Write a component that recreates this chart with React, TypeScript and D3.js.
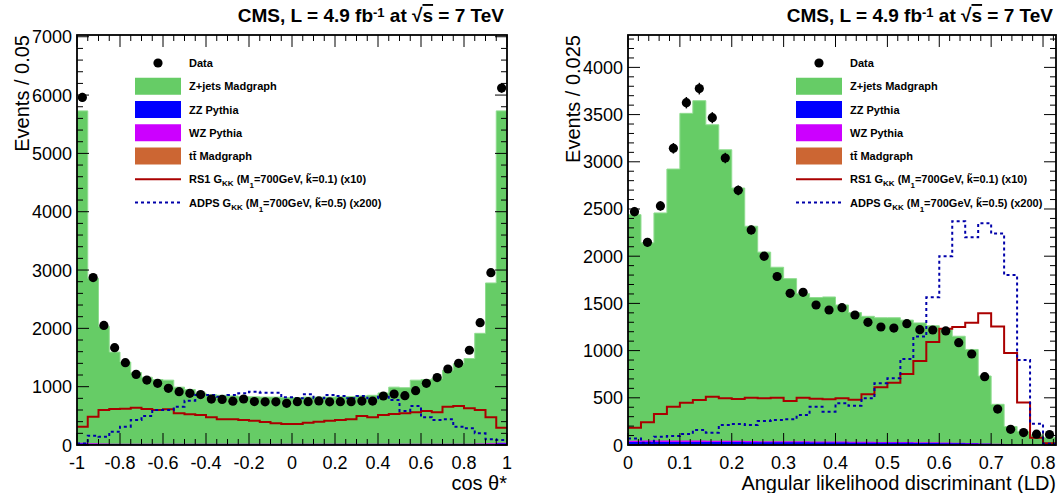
import React from 'react';
import * as d3 from 'd3';

const FONT = "'Liberation Sans', Arial, Helvetica, sans-serif";

// ---------------- Left panel: cos theta* (40 bins of 0.05) ----------------
const leftBinCount = 40;
const leftData = [5960, 2870, 2050, 1669, 1411, 1211, 1114, 1057, 971, 914, 886, 865, 787, 781, 752, 789, 745, 741, 741, 714, 743, 743, 756, 741, 743, 743, 754, 754, 840, 874, 846, 931, 1057, 1156, 1303, 1400, 1625, 2097, 2955, 6120];
const leftZjets = [5690, 2830, 2010, 1570, 1400, 1220, 1140, 1100, 1090, 970, 930, 870, 840, 830, 820, 810, 805, 800, 800, 790, 790, 800, 800, 800, 805, 810, 820, 830, 870, 970, 960, 1090, 1100, 1120, 1260, 1370, 1460, 1890, 2750, 5690];
const leftZZ = [22, 16, 14, 13, 12, 12, 12, 12, 12, 12, 12, 12, 12, 12, 12, 12, 12, 12, 12, 12, 12, 12, 12, 12, 12, 12, 12, 12, 12, 12, 12, 12, 12, 12, 12, 13, 13, 14, 16, 22];
const leftWZ = [14, 9, 8, 7, 7, 7, 7, 7, 7, 7, 7, 7, 7, 7, 7, 7, 7, 7, 7, 7, 7, 7, 7, 7, 7, 7, 7, 7, 7, 7, 7, 7, 7, 7, 7, 7, 7, 8, 9, 14];
const leftTT = [3, 3, 3, 3, 3, 3, 3, 3, 3, 3, 3, 3, 3, 3, 3, 3, 3, 3, 3, 3, 3, 3, 3, 3, 3, 3, 3, 3, 3, 3, 3, 3, 3, 3, 3, 3, 3, 3, 3, 3];
const leftRS1 = [314, 486, 600, 617, 623, 640, 617, 600, 611, 543, 526, 514, 474, 440, 440, 429, 417, 394, 371, 360, 360, 383, 400, 417, 429, 440, 497, 474, 514, 531, 543, 560, 583, 560, 657, 669, 629, 600, 474, 297];
const leftADPS = [25, 160, 140, 229, 314, 429, 497, 600, 600, 657, 760, 857, 857, 829, 857, 886, 914, 897, 897, 817, 800, 869, 800, 857, 840, 800, 840, 800, 829, 771, 583, 669, 474, 429, 440, 314, 286, 200, 97, 86];
const leftXTicks = [-1, -0.8, -0.6, -0.4, -0.2, 0, 0.2, 0.4, 0.6, 0.8, 1];
const leftYTicks = [0, 1000, 2000, 3000, 4000, 5000, 6000, 7000];

// ---------------- Right panel: angular LD (33 bins of 0.025) ----------------
const rightBinCount = 33;
const rightData = [2472, 2147, 2532, 3143, 3626, 3775, 3467, 3040, 2698, 2278, 2000, 1785, 1607, 1617, 1483, 1430, 1455, 1377, 1299, 1250, 1239, 1285, 1222, 1218, 1208, 1084, 964, 724, 381, 166, 132, 115, 111];
const rightZjets = [2395, 2095, 2410, 2875, 3465, 3600, 3347, 3083, 2678, 2275, 2002, 1842, 1723, 1564, 1525, 1531, 1447, 1369, 1329, 1315, 1317, 1292, 1263, 1235, 1196, 1128, 991, 715, 419, 188, 141, 102, 79];
const rightZZ = [30, 30, 30, 30, 30, 30, 28, 28, 28, 27, 26, 26, 25, 25, 24, 24, 23, 22, 22, 21, 20, 20, 19, 18, 17, 16, 14, 11, 8, 5, 3, 2, 1];
const rightWZ = [12, 14, 15, 15, 15, 14, 14, 13, 13, 12, 12, 12, 11, 11, 10, 10, 10, 9, 9, 9, 8, 8, 8, 7, 7, 6, 5, 4, 3, 2, 1, 1, 0];
const rightTT = [3, 3, 3, 3, 3, 3, 3, 3, 3, 3, 3, 3, 3, 3, 3, 3, 3, 3, 3, 3, 3, 3, 3, 3, 2, 2, 2, 1, 1, 1, 0, 0, 0];
const rightRS1 = [184, 240, 328, 406, 448, 477, 512, 494, 487, 501, 494, 501, 466, 501, 491, 484, 494, 480, 537, 611, 660, 752, 890, 1091, 1232, 1250, 1296, 1395, 1255, 975, 450, 78, 18];
const rightADPS = [70, 25, 88, 95, 117, 159, 131, 212, 222, 212, 254, 265, 272, 318, 406, 353, 441, 417, 494, 653, 706, 911, 1148, 1564, 2000, 2370, 2200, 2350, 2240, 1800, 900, 226, 14];
const rightXTicks = [0, 0.1, 0.2, 0.3, 0.4, 0.5, 0.6, 0.7, 0.8];
const rightYTicks = [0, 500, 1000, 1500, 2000, 2500, 3000, 3500, 4000];

const legendLabels = ['Data', 'Z+jets Madgraph', 'ZZ Pythia', 'WZ Pythia', 'tt Madgraph', 'RS1', 'ADPS'];

const C_ZJETS = '#66cc66';
const C_ZZ = '#0000ff';
const C_WZ = '#cc00ff';
const C_TT = '#cc6633';
const C_RS1 = '#aa0000';
const C_ADPS = '#0000aa';

type PanelProps = {
  x0: number; x1: number; y0: number; y1: number;
  xMin: number; xMax: number; yMax: number; binCount: number;
  data: number[]; zjets: number[]; zz: number[]; wz: number[]; tt: number[];
  rs1: number[]; adps: number[];
  xTicks: number[]; xMinorStep: number;
  yTicks: number[]; yMinorStep: number;
  yTitle: string; xTitle: React.ReactNode;
  legendX: number;
};

function Panel(p: PanelProps) {
  const x = d3.scaleLinear().domain([p.xMin, p.xMax]).range([p.x0, p.x1]);
  const y = d3.scaleLinear().domain([0, p.yMax]).range([p.y1, p.y0]);
  const bw = (p.xMax - p.xMin) / p.binCount;
  const edges = d3.range(p.binCount + 1).map((i) => p.xMin + i * bw);

  const pts = (vals: number[]): [number, number][] => {
    const a: [number, number][] = vals.map((v, i) => [edges[i], v]);
    a.push([edges[vals.length], vals[vals.length - 1]]);
    return a;
  };
  const area = d3.area<[number, number]>()
    .x((d) => x(d[0])).y0(y(0)).y1((d) => y(d[1])).curve(d3.curveStepAfter);
  const line = d3.line<[number, number]>()
    .x((d) => x(d[0])).y((d) => y(d[1])).curve(d3.curveStepAfter);

  const s1 = p.tt;
  const s2 = s1.map((v, i) => v + p.zz[i]);
  const s3 = s2.map((v, i) => v + p.wz[i]);
  const s4 = s3.map((v, i) => v + p.zjets[i]);

  const xMinor = d3.range(Math.round((p.xMax - p.xMin) / p.xMinorStep) + 1).map((i) => p.xMin + i * p.xMinorStep);
  const yMinor = d3.range(Math.floor(p.yMax / p.yMinorStep) + 1).map((i) => i * p.yMinorStep);

  const MAJ = 12, MIN = 6;
  const lx = p.legendX;
  const rowY = (i: number) => 63 + 23.25 * i;

  return (
    <g>
      <defs>
        <clipPath id={`clip${p.x0}`}>
          <rect x={p.x0} y={p.y0} width={p.x1 - p.x0} height={p.y1 - p.y0} />
        </clipPath>
      </defs>
      <g clipPath={`url(#clip${p.x0})`}>
        <path d={area(pts(s4)) || ''} fill={C_ZJETS} stroke="#8fdc8f" strokeWidth={1} />
        <path d={area(pts(s3)) || ''} fill={C_WZ} />
        <path d={area(pts(s2)) || ''} fill={C_ZZ} />
        <path d={area(pts(s1)) || ''} fill={C_TT} />
        <path d={line(pts(p.rs1)) || ''} fill="none" stroke={C_RS1} strokeWidth={2} />
        <path d={line(pts(p.adps)) || ''} fill="none" stroke={C_ADPS} strokeWidth={2} strokeDasharray="3,3" />
        {p.data.map((v, i) => {
          const cx = x(edges[i] + bw / 2);
          const e = Math.sqrt(v);
          return (
            <g key={i}>
              <line x1={cx} x2={cx} y1={y(v - e)} y2={y(v + e)} stroke="#000" strokeWidth={1.5} />
              <circle cx={cx} cy={y(v)} r={4.6} fill="#000" />
            </g>
          );
        })}
      </g>

      {/* ticks */}
      <g stroke="#000" strokeWidth={1}>
        {xMinor.map((v, i) => {
          const isMaj = p.xTicks.some((t) => Math.abs(t - v) < 1e-6);
          const L = isMaj ? MAJ : MIN;
          return (
            <g key={'xm' + i}>
              <line x1={x(v)} x2={x(v)} y1={p.y1} y2={p.y1 - L} />
              <line x1={x(v)} x2={x(v)} y1={p.y0} y2={p.y0 + L} />
            </g>
          );
        })}
        {yMinor.map((v, i) => {
          const isMaj = p.yTicks.some((t) => Math.abs(t - v) < 1e-6);
          const L = isMaj ? MAJ : MIN;
          return (
            <g key={'ym' + i}>
              <line x1={p.x0} x2={p.x0 + L} y1={y(v)} y2={y(v)} />
              <line x1={p.x1} x2={p.x1 - L} y1={y(v)} y2={y(v)} />
            </g>
          );
        })}
      </g>
      <rect x={p.x0} y={p.y0} width={p.x1 - p.x0} height={p.y1 - p.y0} fill="none" stroke="#000" strokeWidth={1.8} />

      {/* tick labels */}
      <g fontFamily={FONT} fontSize={18} fill="#000">
        {p.xTicks.map((v) => (
          <text key={'xl' + v} x={x(v)} y={469} textAnchor="middle">{String(v)}</text>
        ))}
        {p.yTicks.map((v) => (
          <text key={'yl' + v} x={p.x0 - 5} y={y(v) + 6.5} textAnchor="end">{String(v)}</text>
        ))}
      </g>

      {/* axis titles */}
      <text fontFamily={FONT} fontSize={20} textAnchor="end"
        transform={`translate(${p.x0 - 48},${p.y0}) rotate(-90)`}>{p.yTitle}</text>
      <text fontFamily={FONT} fontSize={20} textAnchor="end" x={p.x1} y={490}>{p.xTitle}</text>

      {/* title */}
      <text fontFamily={FONT} fontSize={19} fontWeight="bold" textAnchor="end" x={p.x1 - 3} y={22}>
        CMS, L = 4.9 fb<tspan fontSize={13} baselineShift="40%">-1</tspan> at √<tspan style={{ textDecoration: 'overline' }}>s</tspan> = 7 TeV
      </text>

      {/* legend */}
      <g fontFamily={FONT} fontSize={11} fontWeight="bold">
        <circle cx={lx + 23} cy={rowY(0)} r={4.6} fill="#000" />
        <text x={lx + 54} y={rowY(0) + 4}>{legendLabels[0]}</text>
        {[C_ZJETS, C_ZZ, C_WZ, C_TT].map((c, k) => (
          <g key={'lb' + k}>
            <rect x={lx} y={rowY(k + 1) - 8.5} width={46} height={17} fill={c} />
          </g>
        ))}
        <text x={lx + 54} y={rowY(1) + 4}>{legendLabels[1]}</text>
        <text x={lx + 54} y={rowY(2) + 4}>{legendLabels[2]}</text>
        <text x={lx + 54} y={rowY(3) + 4}>{legendLabels[3]}</text>
        <text x={lx + 54} y={rowY(4) + 4}>t{'t\u0304'} Madgraph</text>
        <line x1={lx} x2={lx + 46} y1={rowY(5)} y2={rowY(5)} stroke={C_RS1} strokeWidth={2} />
        <text x={lx + 54} y={rowY(5) + 4}>
          {legendLabels[5]} G<tspan fontSize={8} dy={3}>KK</tspan><tspan dy={-3}> (M</tspan><tspan fontSize={8} dy={5}>1</tspan><tspan dy={-5}>=700GeV, {'k\u0303'}=0.1) (x10)</tspan>
        </text>
        <line x1={lx} x2={lx + 46} y1={rowY(6)} y2={rowY(6)} stroke={C_ADPS} strokeWidth={2} strokeDasharray="3,3" />
        <text x={lx + 54} y={rowY(6) + 4}>
          {legendLabels[6]} G<tspan fontSize={8} dy={3}>KK</tspan><tspan dy={-3}> (M</tspan><tspan fontSize={8} dy={5}>1</tspan><tspan dy={-5}>=700GeV, {'k\u0303'}=0.5) (x200)</tspan>
        </text>
      </g>
    </g>
  );
}

export default function App() {
  return (
    <svg width={1062} height={493} style={{ position: 'absolute', left: 0, top: 0, background: '#fff' }}>
      <rect x={0} y={0} width={1062} height={493} fill="#fff" />
      <Panel
        x0={77} x1={507} y0={35} y1={445}
        xMin={-1} xMax={1} yMax={7030} binCount={leftBinCount}
        data={leftData} zjets={leftZjets} zz={leftZZ} wz={leftWZ} tt={leftTT}
        rs1={leftRS1} adps={leftADPS}
        xTicks={leftXTicks} xMinorStep={0.05}
        yTicks={leftYTicks} yMinorStep={200}
        yTitle="Events / 0.05" xTitle={<>cos θ*</>}
        legendX={135}
      />
      <Panel
        x0={628} x1={1056} y0={35} y1={445}
        xMin={0} xMax={0.825} yMax={4343} binCount={rightBinCount}
        data={rightData} zjets={rightZjets} zz={rightZZ} wz={rightWZ} tt={rightTT}
        rs1={rightRS1} adps={rightADPS}
        xTicks={rightXTicks} xMinorStep={0.02}
        yTicks={rightYTicks} yMinorStep={100}
        yTitle="Events / 0.025" xTitle={<>Angular likelihood discriminant (LD)</>}
        legendX={796}
      />
    </svg>
  );
}
